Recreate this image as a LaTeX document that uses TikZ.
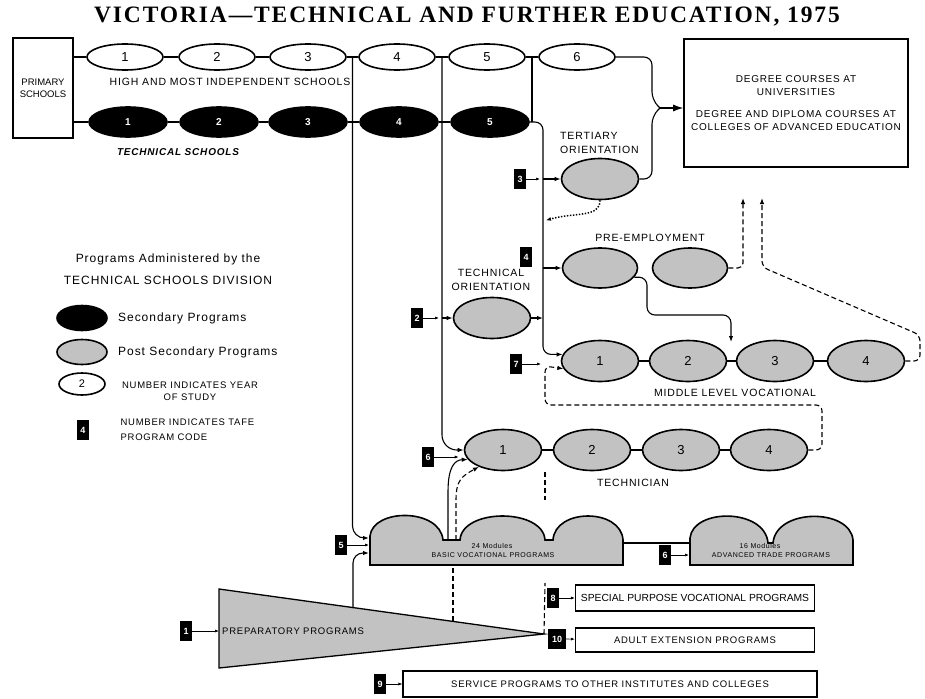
\documentclass[tikz,border=0pt]{standalone}
\usepackage{fontspec}
\setmainfont{Liberation Sans}
\newfontfamily\plainfont{Liberation Sans}
\newfontfamily\capsfont{Liberation Sans}[LetterSpace=8]
\newfontfamily\titlefont{Liberation Serif}[LetterSpace=8]
\usetikzlibrary{arrows.meta, shapes.geometric, calc}

\tikzset{
  yearw/.style={ellipse, draw, line width=1.6pt, fill=white, minimum width=76pt, minimum height=26pt, inner sep=0pt, font={\plainfont\fontsize{13}{13}\selectfont}},
  yearb/.style={ellipse, draw, line width=1.6pt, fill=black, text=white, minimum width=78pt, minimum height=30pt, inner sep=0pt, font={\plainfont\bfseries\fontsize{10}{10}\selectfont}},
  post/.style={ellipse, draw, line width=1.6pt, fill=gray!48, minimum width=77pt, minimum height=41pt, inner sep=0pt, font={\plainfont\fontsize{13}{13}\selectfont}},
  codebox/.style={fill=black, text=white, inner sep=0pt, minimum width=12pt, minimum height=20pt, font={\plainfont\bfseries\fontsize{9}{9}\selectfont}},
  progbox/.style={draw, line width=1.2pt, inner sep=0pt, minimum height=26pt, font={\capsfont\fontsize{9.5}{10}\selectfont}},
  caps/.style={inner sep=1pt, font={\capsfont\fontsize{10.5}{14}\selectfont}},
  legend/.style={inner sep=1pt, font={\capsfont\fontsize{12}{22}\selectfont}},
  link/.style={line width=1.1pt},
  flow/.style={link, -{Latex[length=6pt, width=4.5pt]}},
  codeflow/.style={line width=0.7pt, -{Latex[length=4pt, width=3pt]}},
  dashlink/.style={link, dash pattern=on 5pt off 3pt},
  dashflow/.style={dashlink, -{Latex[length=6pt, width=4.5pt]}},
  dotflow/.style={line width=1.5pt, dash pattern=on 1.4pt off 1.6pt, -{Latex[length=5pt, width=4pt]}},
  shapefill/.style={line width=1.6pt, fill=gray!48}
}

\begin{document}
\begin{tikzpicture}[x=1pt, y=-1pt]
  \fill[white] (0,0) rectangle (925,698);
  \useasboundingbox (0,0) rectangle (925,698);

  \node[font={\titlefont\bfseries\fontsize{23.5}{24}\selectfont}] (title) at (467,17) {VICTORIA—TECHNICAL AND FURTHER EDUCATION, 1975};

  % schools
  \node[draw, line width=1.3pt, minimum width=60pt, minimum height=100pt, align=center, inner sep=0pt, font={\plainfont\fontsize{9.5}{12}\selectfont}] (ps) at (43,88) {PRIMARY\\SCHOOLS};
  \foreach \n/\x in {1/125, 2/217, 3/308, 4/397, 5/487, 6/577}
    \node[yearw] (w\n) at (\x,57) {\n};
  \foreach \n/\x in {1/128, 2/219, 3/308, 4/399, 5/490}
    \node[yearb] (b\n) at (\x,122) {\n};
  \draw[link] (ps.east |- w1) -- (w1) -- (w2) -- (w3) -- (w4) -- (w5) -- (w6);
  \draw[link] (ps.east |- b1) -- (b1) -- (b2) -- (b3) -- (b4) -- (b5);
  \node[caps] (hmis) at (230,82) {HIGH AND MOST INDEPENDENT SCHOOLS};
  \node[caps, font={\capsfont\bfseries\itshape\fontsize{10}{12}\selectfont}] (tsl) at (178,152) {TECHNICAL SCHOOLS};

  \coordinate (j34) at ($(w3.east)!0.5!(w4.west)$);
  \coordinate (j45) at ($(w4.east)!0.5!(w5.west)$);
  \coordinate (j56) at ($(w5.east)!0.5!(w6.west)$);
  \coordinate (v3) at (543,130);

  % degree box
  \node[draw, line width=1.6pt, minimum width=224pt, minimum height=128pt, align=center, font={\capsfont\fontsize{10}{13}\selectfont}] (deg) at (796,103)
    {DEGREE COURSES AT\\UNIVERSITIES\\[9pt]DEGREE AND DIPLOMA COURSES AT\\COLLEGES OF ADVANCED EDUCATION};

  % post secondary programs
  \node[post] (ter) at (600,179) {};
  \node[caps, anchor=west, align=left] (terl) at (559,143) {TERTIARY\\ORIENTATION};
  \node[post] (tor) at (492,318) {};
  \node[caps, align=center] (torl) at (491,280) {TECHNICAL\\ORIENTATION};
  \node[post, minimum width=75pt, minimum height=40pt] (pe1) at (600,268) {};
  \node[post, minimum width=75pt, minimum height=40pt] (pe2) at (690,268) {};
  \node[caps] (pel) at (650,238) {PRE-EMPLOYMENT};
  \foreach \n/\x in {1/600, 2/688, 3/775, 4/866}
    \node[post] (m\n) at (\x,361) {\n};
  \node[caps] (mlv) at (735,393) {MIDDLE LEVEL VOCATIONAL};
  \foreach \n/\x in {1/503, 2/592, 3/681, 4/769}
    \node[post] (t\n) at (\x,450) {\n};
  \node[caps] (tcn) at (633,483) {TECHNICIAN};
  \draw[link] (m1) -- (m2) -- (m3) -- (m4);
  \draw[link] (t1) -- (t2) -- (t3) -- (t4);

  % module programs
  \draw[shapefill] (370,565) -- (370,536) .. controls (373,508) and (440,508) .. (443,540) -- (460,540)
    .. controls (462,508) and (543,508) .. (545,540) -- (553,540)
    .. controls (555,508) and (621,508) .. (623,540) -- (623,565) -- cycle;
  \node[font={\capsfont\fontsize{7}{8}\selectfont}] (bvm) at (492,546) {24 Modules};
  \node[font={\capsfont\fontsize{7}{8}\selectfont}] (bvp) at (493,555) {BASIC VOCATIONAL PROGRAMS};
  \draw[shapefill] (690,565) -- (690,538) .. controls (693,508) and (765,508) .. (768,543) -- (773,543)
    .. controls (776,508) and (850,508) .. (853,540) -- (853,565) -- cycle;
  \node[font={\capsfont\fontsize{7}{8}\selectfont}] (avm) at (760,546) {16 Modules};
  \node[font={\capsfont\fontsize{7}{8}\selectfont}] (avp) at (771,555) {ADVANCED TRADE PROGRAMS};
  \coordinate (bvR) at (623,543);
  \coordinate (avL) at (690,543);
  \draw[link] (bvR) -- (avL);

  % preparatory
  \coordinate (prepTL) at (219,589);
  \coordinate (prepTip) at (544,634);
  \coordinate (prepBL) at (219,668);
  \draw[shapefill, line width=1.3pt] (prepTL) -- (prepTip) -- (prepBL) -- cycle;
  \node[caps, anchor=west, inner sep=3pt, font={\capsfont\fontsize{9.5}{10}\selectfont}] (prep) at (219,631) {PREPARATORY PROGRAMS};

  % other programs
  \node[progbox, minimum width=239pt, font={\plainfont\fontsize{10.3}{11}\selectfont}] (sp) at (695,598) {SPECIAL PURPOSE VOCATIONAL PROGRAMS};
  \node[progbox, minimum width=239pt, minimum height=24pt] (ad) at (695,640) {ADULT EXTENSION PROGRAMS};
  \node[progbox, minimum width=414pt] (sv) at (610,684) {SERVICE PROGRAMS TO OTHER INSTITUTES AND COLLEGES};

  % code boxes
  \node[codebox] (c3) at (520,179) {3};
  \node[codebox] (c4) at (526,257) {4};
  \node[codebox] (c2) at (417,318) {2};
  \node[codebox] (c7) at (516,364) {7};
  \node[codebox] (c6a) at (428,457) {6};
  \node[codebox] (c5) at (341,545) {5};
  \node[codebox] (c6b) at (665,555) {6};
  \node[codebox] (c1) at (186,631) {1};
  \node[codebox] (c8) at (553,598) {8};
  \node[codebox, minimum width=18pt] (c10) at (557,639) {10};
  \node[codebox] (c9) at (380,684) {9};

  % main flows
  \coordinate (bvIn1) at (369,538);
  \coordinate (bvIn2) at (369,553);
  \coordinate (bvIn5) at (369,545);
  \coordinate (avIn) at (689,555);
  \draw[flow, rounded corners=12pt] (j34) |- (bvIn1);
  \draw[flow, rounded corners=15pt] (j45) |- (t1.west);
  \draw[link] (j56) -- (j56 |- b5);
  \draw[flow, rounded corners=8pt] (b5.east) -- (v3 |- b5) -- (v3 |- m1.170) -- (m1.170);
  \draw[flow] (v3 |- ter) -- (ter);
  \draw[flow] (v3 |- pe1) -- (pe1);
  \draw[flow] (tor) -- (v3 |- tor);
  \draw[flow] (j45 |- tor) -- (tor);

  % to degree courses
  \coordinate (brace) at (660,108);
  \draw[link, rounded corners=8pt] (w6) -- (652,57) -- (652,100) -- (brace);
  \draw[link, rounded corners=8pt] (ter) -- (652,179) -- (652,116) -- (brace);
  \draw[line width=1.1pt, -{Latex[length=10pt, width=7pt]}] (brace) -- (deg.west |- brace);
  \draw[dotflow] (ter.south) .. controls (600,218) and (575,212) .. ($(v3 |- ter.south)+(3,20)$);

  % pre-employment
  \coordinate (up1) at (743,198);
  \coordinate (up2) at (762,198);
  \coordinate (mDrop) at (731,342);
  \draw[flow, rounded corners=8pt] (pe1.-15) -| (647,315) -| (mDrop);
  \draw[dashflow, rounded corners=5pt] (pe2) -- (pe2 -| up1) -- (up1);
  \draw[dashflow, rounded corners=6pt] (m4) -- (920,361) -- (920,335) -- (762,267) -- (up2);

  % dashed returns
  \coordinate (dR) at (822,405);
  \coordinate (dJ) at (545,366);
  \draw[dashflow, rounded corners=6pt] (t4) -| (dR) -| (dJ) -- (m1.192);
  \draw[dashlink] (545,472) -- (545,500);
  \draw[dashlink] (prepTip) -- (545,583);
  \coordinate (prepV) at (353,608);
  \coordinate (prepD) at (453,621);
  \draw[flow, rounded corners=10pt] (prepV) |- (bvIn2);
  \draw[dashlink] (prepD) -- (453,566);
  \draw[flow] (448,540) -- (448,492) .. controls (448,466) and (455,460) .. (t1.195);
  \draw[dashflow] (456,540) -- (456,500) .. controls (456,480) and (462,476) .. (t1.215);

  % code arrows
  \draw[codeflow] (c3) -- ($(v3 |- c3)+(-3,0)$);
  \draw[codeflow] (c2) -- ($(j45 |- c2)+(-3,0)$);
  \draw[codeflow] (c7) -- ($(v3 |- c7)+(-2,0)$);
  \draw[codeflow] (c6a) -- ($(c6a -| t1.west)+(-5,0)$);
  \draw[codeflow] (c5) -- (bvIn5);
  \draw[codeflow] (c6b) -- (avIn);
  \draw[codeflow] (c1) -- (prep.west);
  \draw[codeflow] (c8) -- (sp);
  \draw[codeflow] (c10) -- (ad);
  \draw[codeflow] (c9) -- (sv);

  % legend
  \node[legend, align=center] (legt) at (168,269) {Programs Administered by the\\TECHNICAL SCHOOLS DIVISION};
  \node[yearb, minimum width=50pt, minimum height=25pt] (legb) at (82,318) {};
  \node[legend, anchor=west] (legbt) at (117,318) {Secondary Programs};
  \node[post, minimum width=50pt, minimum height=25pt] (legp) at (82,352) {};
  \node[legend, anchor=west] (legpt) at (117,352) {Post Secondary Programs};
  \node[yearw, minimum width=46pt, minimum height=22pt, font={\plainfont\fontsize{11}{11}\selectfont}] (legw) at (82,384) {2};
  \node[align=center, font={\capsfont\fontsize{9.5}{12}\selectfont}] (legwt) at (190,391) {NUMBER INDICATES YEAR\\OF STUDY};
  \node[codebox] (legc) at (83,430) {4};
  \node[anchor=west, align=left, font={\capsfont\fontsize{9.5}{15}\selectfont}] (legct) at (117,430) {NUMBER INDICATES TAFE\\PROGRAM CODE};
\end{tikzpicture}
\end{document}
